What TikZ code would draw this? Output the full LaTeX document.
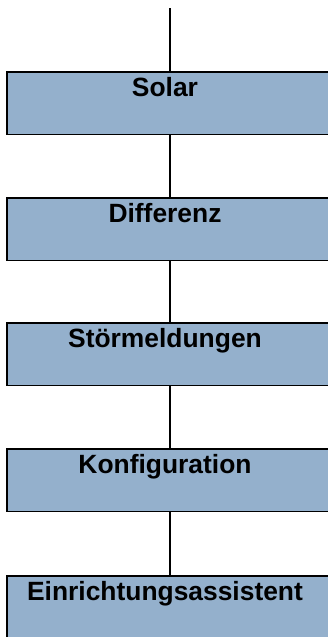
\documentclass[tikz,border=0pt]{standalone}
\usepackage{fontspec}
\setmainfont{Liberation Sans}
\definecolor{menublau}{HTML}{94B0CC}
\tikzset{
  menubox/.style={draw=black, fill=menublau, line width=1.8pt,
    minimum width=326pt, inner xsep=0pt, inner ysep=0pt,
    text height=25pt, text depth=37.5pt, anchor=north,
    execute at begin node=\hspace*{-10pt},
    font=\fontsize{26.4}{30}\selectfont\bfseries},
  verbinder/.style={draw=black, line width=1.8pt}
}

\begin{document}
\begin{tikzpicture}[x=1pt,y=-1pt]

  \clip (0,0) rectangle (328,637);

  \coordinate (oben) at (170,8);

  \node[menubox] (solar)      at (170,71)  {Solar};
  \node[menubox] (differenz)  at (170,197) {Differenz};
  \node[menubox] (stoerung)   at (170,322) {Störmeldungen};
  \node[menubox] (konfig)     at (170,448) {Konfiguration};
  \node[menubox] (assistent)  at (170,575) {Einrichtungsassistent};

  % Verbindungen
  \draw[verbinder] (oben) -- (solar);
  \draw[verbinder] (solar) -- (differenz);
  \draw[verbinder] (differenz) -- (stoerung);
  \draw[verbinder] (stoerung) -- (konfig);
  \draw[verbinder] (konfig) -- (assistent);

\end{tikzpicture}
\end{document}
